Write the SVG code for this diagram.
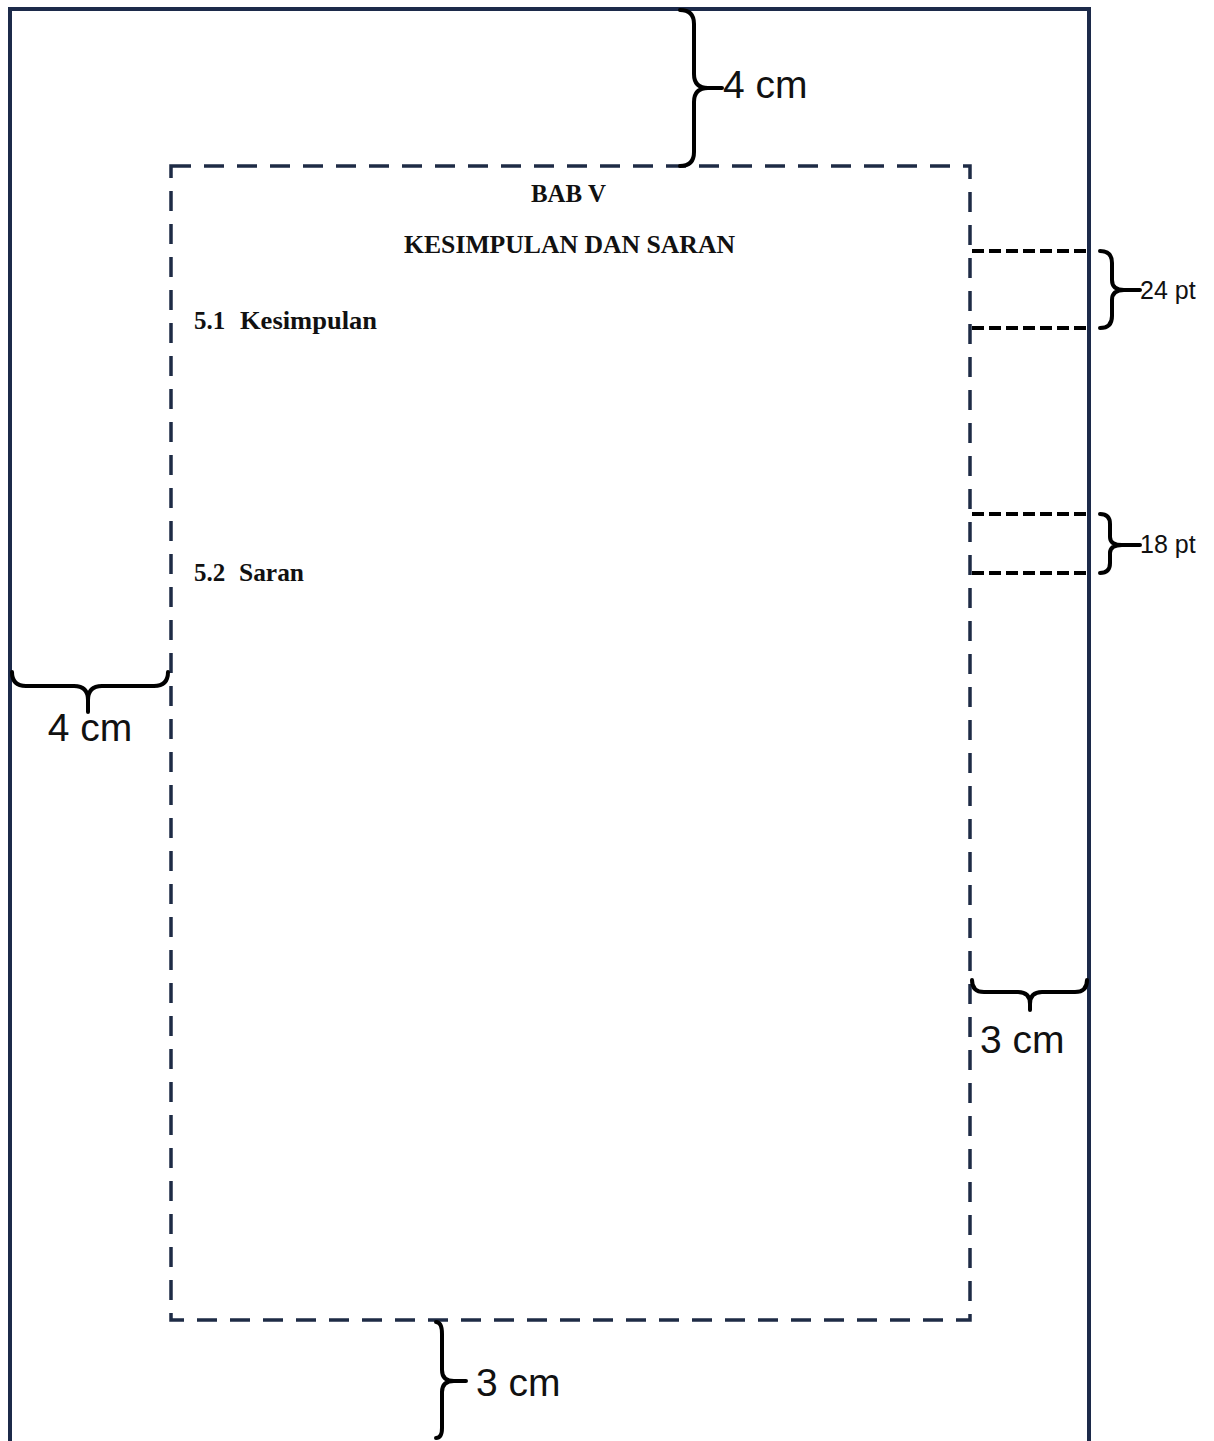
<svg xmlns="http://www.w3.org/2000/svg" width="1214" height="1441" viewBox="0 0 1214 1441">
<style>
.page{fill:none;stroke:#1c2a4a;stroke-width:4}
.margin{fill:none;stroke:#1e2b45;stroke-width:3.5;stroke-dasharray:20 13}
.space{fill:none;stroke:#000;stroke-width:4;stroke-dasharray:12 5}
.brace{fill:none;stroke:#000;stroke-width:4;stroke-linecap:round;stroke-linejoin:round}
.lbl{font-family:"Liberation Sans",Arial,sans-serif;font-size:39px;fill:#111}
.lbls{font-family:"Liberation Sans",Arial,sans-serif;font-size:25px;fill:#111}
.doc{font-family:"Liberation Serif","Times New Roman",serif;font-weight:bold;font-size:25px;fill:#111}
</style>
<rect width="1214" height="1441" fill="#fff"/>
<g id="page">
<path class="page" d="M10,1441 V9 H1089 V1441"/>
</g>
<g id="text-area">
<rect class="margin" x="171" y="166" width="799" height="1154"/>
</g>
<g id="content">
<text class="doc" x="531" y="202" textLength="75" lengthAdjust="spacingAndGlyphs">BAB V</text>
<text class="doc" x="404" y="253" textLength="331" lengthAdjust="spacingAndGlyphs">KESIMPULAN DAN SARAN</text>
<text class="doc" y="329"><tspan x="194">5.1</tspan><tspan x="240" textLength="137" lengthAdjust="spacingAndGlyphs">Kesimpulan</tspan></text>
<text class="doc" y="581"><tspan x="194">5.2</tspan><tspan x="239" textLength="65" lengthAdjust="spacingAndGlyphs">Saran</tspan></text>
</g>
<g id="connectors">
<path class="space" d="M972,251 H1090 M972,328 H1090"/>
<path class="space" d="M972,514 H1090 M972,573 H1090"/>
</g>
<g id="brace-top">
<path class="brace" d="M680,10 Q694,10 694,24 L694,74 Q694,88 708,88 L722,88 M708,88 Q694,88 694,102 L694,152 Q694,166 680,166"/>
<text class="lbl" x="723" y="98">4 cm</text>
</g>
<g id="brace-left">
<path class="brace" d="M12,672 Q12,686 26,686 L74,686 Q88,686 88,700 L88,712 M88,700 Q88,686 102,686 L154,686 Q168,686 168,672"/>
<text class="lbl" x="90" y="741" text-anchor="middle">4 cm</text>
</g>
<g id="brace-right">
<path class="brace" d="M972,980 Q972,992 984,992 L1018,992 Q1030,992 1030,1004 L1030,1010 M1030,1004 Q1030,992 1042,992 L1075,992 Q1087,992 1087,980"/>
<text class="lbl" x="980" y="1053">3 cm</text>
</g>
<g id="brace-bottom">
<path class="brace" d="M436,1322 Q442,1322 442,1334 L442,1370 Q442,1381 454,1381 L466,1381 M454,1381 Q442,1381 442,1392 L442,1428 Q442,1438 436,1438"/>
<text class="lbl" x="476" y="1396">3 cm</text>
</g>
<g id="brace-24pt">
<path class="brace" d="M1100,251 Q1112,251 1112,263 L1112,280 Q1112,290 1124,290 L1140,290 M1124,290 Q1112,290 1112,300 L1112,316 Q1112,328 1100,328"/>
<text class="lbls" x="1140" y="299">24 pt</text>
</g>
<g id="brace-18pt">
<path class="brace" d="M1100,514 Q1110,514 1110,524 L1110,537 Q1110,545 1122,545 L1140,545 M1122,545 Q1110,545 1110,553 L1110,563 Q1110,573 1100,573"/>
<text class="lbls" x="1140" y="553">18 pt</text>
</g>
</svg>
